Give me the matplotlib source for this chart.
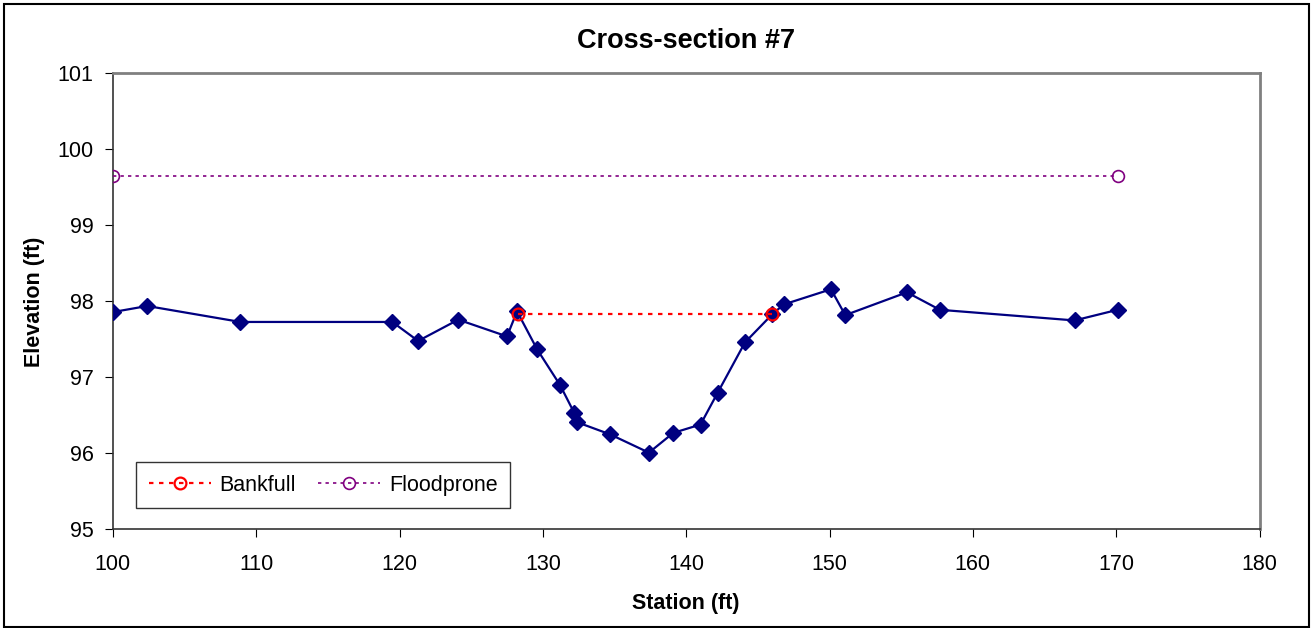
import matplotlib.pyplot as plt
from matplotlib.patches import Rectangle

plt.rcParams['font.family'] = ['Liberation Sans', 'DejaVu Sans']

# surveyed ground profile
station = [100, 102.4, 108.9, 119.5, 121.3, 124.1, 127.5, 128.2, 129.6, 131.2,
           132.2, 132.4, 134.7, 137.4, 139.1, 141.0, 142.2, 144.1, 146.0, 146.8,
           150.1, 151.1, 155.4, 157.7, 167.1, 170.1]
elevation = [97.86, 97.94, 97.73, 97.73, 97.48, 97.76, 97.54, 97.87, 97.37, 96.90,
             96.53, 96.41, 96.25, 96.01, 96.27, 96.38, 96.80, 97.46, 97.83, 97.96,
             98.16, 97.82, 98.12, 97.89, 97.75, 97.89]

bankfull_x = [128.3, 146.0]
bankfull_y = [97.83, 97.83]
floodprone_x = [100, 170.1]
floodprone_y = [99.65, 99.65]

fig = plt.figure(figsize=(13.12, 6.28), dpi=100)
ax = fig.add_axes([0.086, 0.157, 0.874, 0.726])

ax.plot(station, elevation, color='#000080', lw=1.6, marker='D', markersize=8,
        zorder=3)
ax.plot(bankfull_x, bankfull_y, color='red', lw=1.6, ls=(0, (2, 2.5)),
        marker='o', markersize=8.5, markerfacecolor='none', markeredgewidth=1.6,
        label='Bankfull', zorder=4)
ax.plot(floodprone_x, floodprone_y, color='#800080', lw=1.2, ls=(0, (2, 2.5)),
        marker='o', markersize=8.5, markerfacecolor='none', markeredgewidth=1.2,
        label='Floodprone', zorder=4)

ax.set_xlim(100, 180)
ax.set_ylim(95, 101)
ax.set_xticks(range(100, 181, 10))
ax.set_yticks(range(95, 102))
ax.tick_params(direction='out', length=6, labelsize=15.5, colors='black')
ax.tick_params(axis='x', pad=12)
ax.tick_params(axis='y', pad=8)

for s in ['top', 'right']:
    ax.spines[s].set_color('#808080')
    ax.spines[s].set_linewidth(2)
for s in ['left', 'bottom']:
    ax.spines[s].set_color('#333333')
    ax.spines[s].set_linewidth(1.2)

ax.set_title('Cross-section #7', fontsize=19.5, fontweight='bold', pad=18)
ax.set_xlabel('Station (ft)', fontsize=15.5, fontweight='bold', labelpad=13)
ax.set_ylabel('Elevation (ft)', fontsize=15.5, fontweight='bold', labelpad=9)

leg = ax.legend(loc='lower left', bbox_to_anchor=(0.02, 0.046), ncol=2,
                fontsize=15.5, frameon=True, fancybox=False, handlelength=2.9,
                columnspacing=1.0, borderpad=0.6, handletextpad=0.4,
                borderaxespad=0)
leg.get_frame().set_edgecolor('black')
leg.get_frame().set_linewidth(1)

fig.patches.append(Rectangle((0.003, 0.002), 0.995, 0.992, transform=fig.transFigure,
                             fill=False, edgecolor='black', lw=1.5))

fig.savefig('out.png', dpi=100)
